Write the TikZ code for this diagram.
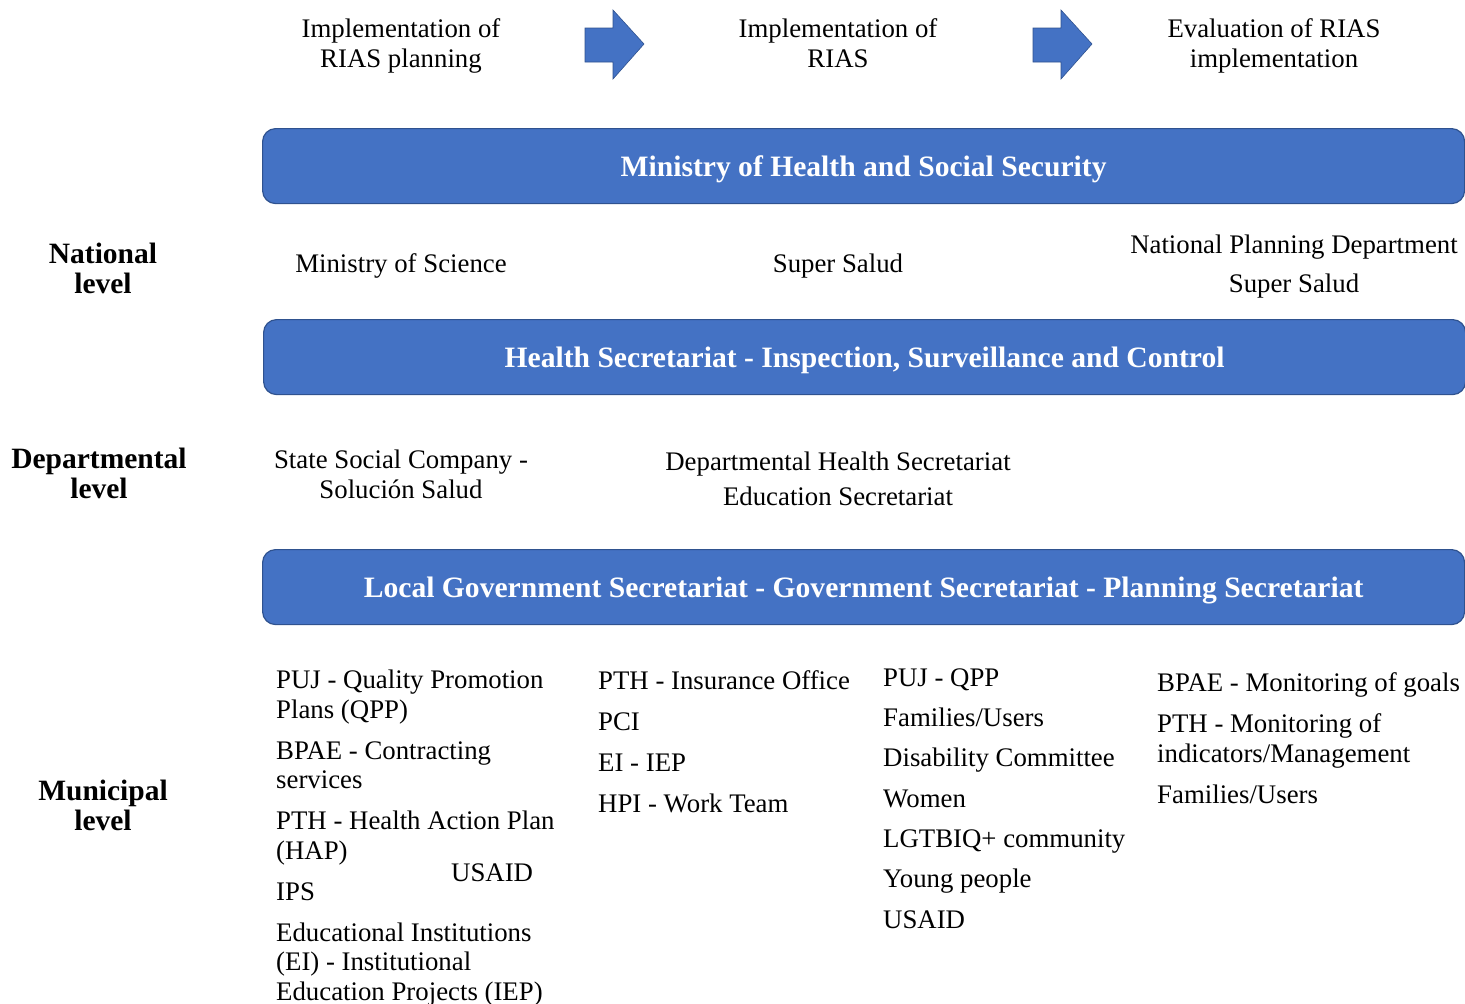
\documentclass[tikz,border=0pt]{standalone}
\usepackage{fontspec}
\setmainfont{Liberation Serif}
\definecolor{barblue}{HTML}{4472C4}
\definecolor{barline}{HTML}{2F528F}
\begin{document}
\begin{tikzpicture}[x=1pt,y=-1pt,
  bar/.style={draw=barline, line width=1.2pt, fill=barblue, rounded corners=13pt,
    minimum width=1202pt, minimum height=75pt, anchor=north west, inner sep=0pt,
    text height=26pt, text depth=5pt,
    text=white, font=\fontsize{29.6}{32}\selectfont\bfseries},
  txt/.style={font=\fontsize{26.8}{30}\selectfont, inner sep=0pt, align=center, anchor=base},
  lvl/.style={font=\fontsize{29.5}{29.5}\selectfont\bfseries, inner sep=0pt, align=center, anchor=base},
  lst/.style={font=\fontsize{26.8}{29.5}\selectfont, inner sep=0pt, align=left, anchor=base west},
  flow/.style={fill=barblue, draw=barline, line width=0.6pt}]
\useasboundingbox (0,0) rectangle (1465,1004);
\clip (0,0) rectangle (1465,1004);

% header row (anchor = baseline of last line)
\node[txt] (h1) at (401,67) {Implementation of\\RIAS planning};
\node[txt] (h2) at (838,67) {Implementation of\\RIAS};
\node[txt] (h3) at (1274,67) {Evaluation of RIAS\\implementation};
\draw[flow] (585,28) -- (613,28) -- (613,10) -- (644,44) -- (613,79) -- (613,62) -- (585,62) -- cycle;
\draw[flow] (1033,28) -- (1061,28) -- (1061,10) -- (1092,44) -- (1061,79) -- (1061,62) -- (1033,62) -- cycle;

% bars
\node[bar] (b1) at (262,128) {Ministry of Health and Social Security};
\node[bar] (b2) at (263,319) {Health Secretariat - Inspection, Surveillance and Control};
\node[bar] (b3) at (262,549) {Local Government Secretariat - Government Secretariat - Planning Secretariat};

% level labels
\node[lvl] (nat) at (103,293) {National\\level};
\node[lvl] (dep) at (99,498) {Departmental\\level};
\node[lvl] (mun) at (103,830) {Municipal\\level};

% national
\node[txt] (n1) at (401,272) {Ministry of Science};
\node[txt] (n2) at (838,272) {Super Salud};
\node[txt] (n3) at (1294,292) {National Planning Department\\[9pt]Super Salud};

% departmental
\node[txt] (d1) at (401,498) {State Social Company -\\Solución Salud};
\node[txt] (d2) at (838,505) {Departmental Health Secretariat\\[5pt]Education Secretariat};

% municipal
\node[lst] (m1) at (276,1000) {PUJ - Quality Promotion\\Plans (QPP)\\[11.5pt]BPAE - Contracting\\services\\[11.5pt]PTH - Health Action Plan\\(HAP)\\[11.5pt]IPS\\[11.5pt]Educational Institutions\\(EI) - Institutional\\Education Projects (IEP)};
\node[lst] (m1b) at (451,881) {USAID};
\node[lst] (m2) at (598,812) {PTH - Insurance Office\\[11.5pt]PCI\\[11.5pt]EI - IEP\\[11.5pt]HPI - Work Team};
\node[lst] (m3) at (883,928) {PUJ - QPP\\[10.8pt]Families/Users\\[10.8pt]Disability Committee\\[10.8pt]Women\\[10.8pt]LGTBIQ+ community\\[10.8pt]Young people\\[10.8pt]USAID};
\node[lst] (m4) at (1157,803) {BPAE - Monitoring of goals\\[11.5pt]PTH - Monitoring of\\indicators/Management\\[11.5pt]Families/Users};
\end{tikzpicture}
\end{document}
